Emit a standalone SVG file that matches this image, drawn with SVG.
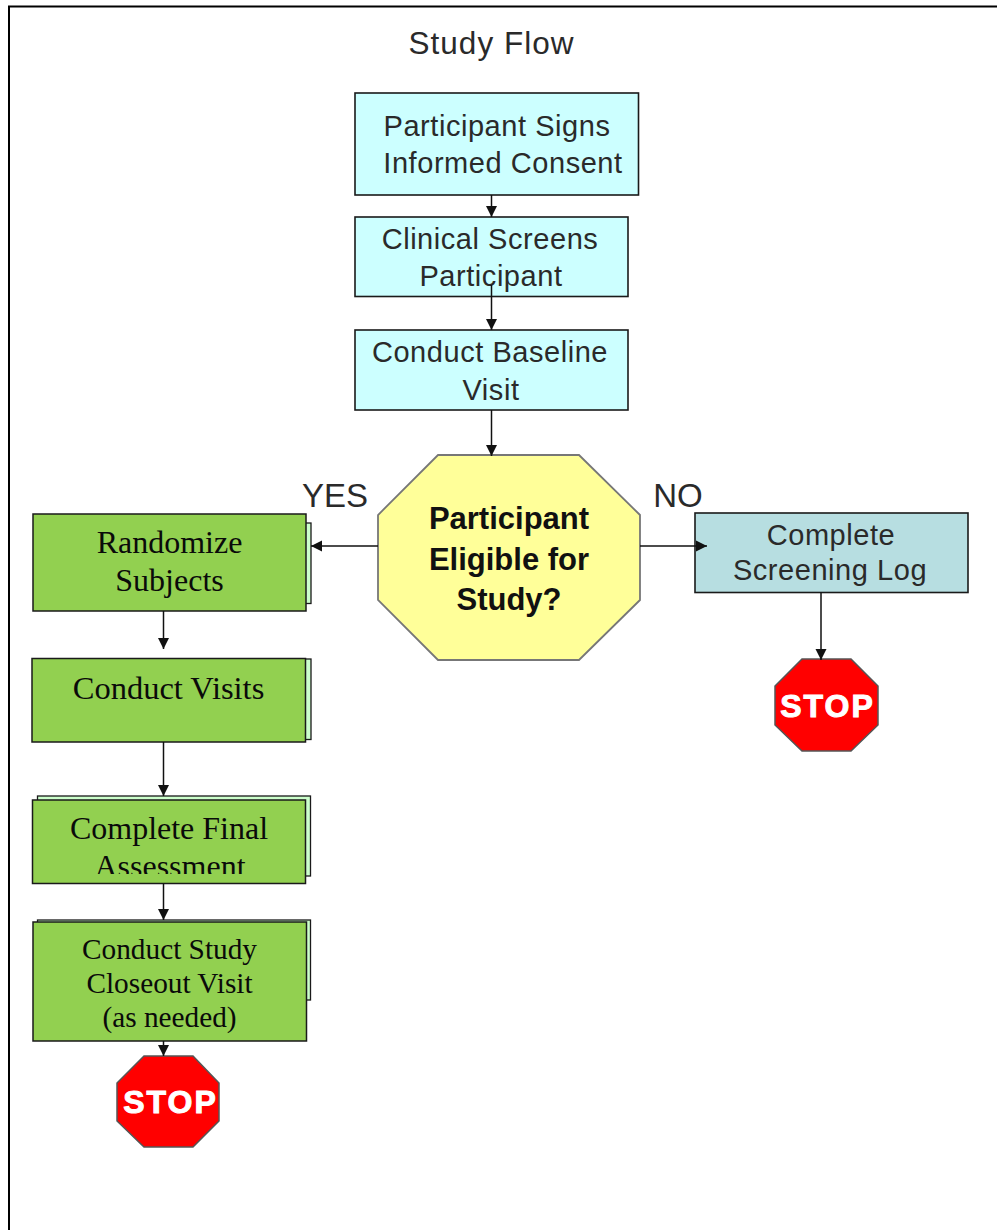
<svg xmlns="http://www.w3.org/2000/svg" width="997" height="1230" viewBox="0 0 997 1230">
<defs>
<marker id="a" markerUnits="userSpaceOnUse" markerWidth="12" markerHeight="12" refX="11" refY="6" orient="auto"><path d="M0 0.500L11 6L0 11.500Z" fill="#111"/></marker>
</defs>
<style>
.s{font-family:"Liberation Sans",Arial,sans-serif;fill:#2a2a2a;text-anchor:middle}
.p{letter-spacing:.55px}
.t{font-family:"Liberation Serif","Times New Roman",serif;fill:#0a0a0a;text-anchor:middle}
.c{fill:#ccffff;stroke:#1a1a1a;stroke-width:1.600}
.g{fill:#92d050;stroke:#1a1a1a;stroke-width:1.500}
.b{fill:#ccffcc;stroke:#1a1a1a;stroke-width:1.300}
.stop{fill:#ff0000;stroke:#555;stroke-width:1.500}
.st{font-family:"Liberation Sans",Arial,sans-serif;font-weight:700;fill:#fff;text-anchor:middle;font-size:32px;letter-spacing:2px;stroke:#fff;stroke-width:1}
.l{fill:none;stroke:#111;stroke-width:1.500}
</style>
<rect width="997" height="1230" fill="#fff"/>
<path d="M9 1230V6.500H997" fill="none" stroke="#000" stroke-width="2"/>
<text id="title" class="s" x="491.500" y="54" font-size="31.500" letter-spacing="1">Study Flow</text>
<g id="consent"><rect class="c" x="355" y="93" width="283.500" height="102"/><text class="s p" font-size="29"><tspan x="497" y="136">Participant Signs</tspan><tspan x="503" y="173">Informed Consent</tspan></text></g>
<g id="screens"><rect class="c" x="355" y="217" width="273" height="79.500"/><text class="s p" font-size="29"><tspan x="490" y="249">Clinical Screens</tspan><tspan x="491" y="286">Participant</tspan></text></g>
<g id="baseline"><rect class="c" x="355" y="330" width="273" height="80"/><text class="s p" font-size="29"><tspan x="490" y="362">Conduct Baseline</tspan><tspan x="491" y="400">Visit</tspan></text></g>
<g id="eligible"><polygon points="438,455 579,455 640,515 640,600 579,660 438,660 378,600 378,515" fill="#ffff99" stroke="#777" stroke-width="1.800"/><text class="s" font-size="31" font-weight="700" style="fill:#111"><tspan x="509" y="529">Participant</tspan><tspan x="509" y="570">Eligible for</tspan><tspan x="509" y="610">Study?</tspan></text></g>
<text id="yes" class="s" x="335" y="507" font-size="33">YES</text>
<text id="no" class="s" x="678" y="507" font-size="33">NO</text>
<g id="randomize"><rect class="b" x="300" y="523" width="11" height="80.500"/><rect class="g" x="33" y="514" width="273" height="97"/><text class="t" font-size="32"><tspan x="169.500" y="553">Randomize</tspan><tspan x="169.500" y="591">Subjects</tspan></text></g>
<g id="visits"><rect class="b" x="300" y="659" width="11" height="80.500"/><rect class="g" x="32" y="658.500" width="273.500" height="83.500"/><text class="t" x="168.500" y="699" font-size="32.500">Conduct Visits</text></g>
<g id="final"><rect class="b" x="37.500" y="796" width="273" height="80"/><rect class="g" x="32.500" y="800" width="273" height="83.500"/><text class="t" x="169" y="839" font-size="32">Complete Final</text><svg x="33" y="800" width="272" height="74" viewBox="33 800 272 74"><text class="t" x="170" y="877" font-size="32">Assessment</text></svg></g>
<g id="closeout"><rect class="b" x="37.500" y="920" width="273" height="80"/><rect class="g" x="33" y="922" width="273.500" height="119"/><text class="t" font-size="29.300"><tspan x="169.500" y="959">Conduct Study</tspan><tspan x="169.500" y="993">Closeout Visit</tspan><tspan x="169.500" y="1027">(as needed)</tspan></text></g>
<g id="log"><rect x="695" y="513" width="273" height="79.500" fill="#b7dee1" stroke="#1a1a1a" stroke-width="1.600"/><text class="s p" font-size="29"><tspan x="831" y="545">Complete</tspan><tspan x="830" y="580">Screening Log</tspan></text></g>
<g id="stop1"><polygon class="stop" points="802,659 851,659 878,686 878,725 851,751 802,751 775,725 775,686"/><text class="st" x="827.500" y="717">STOP</text></g>
<g id="stop2"><polygon class="stop" points="144,1056 193,1056 219,1083 219,1121 193,1147 144,1147 117,1121 117,1083"/><text class="st" x="170.500" y="1113">STOP</text></g>
<g id="connectors">
<path class="l" marker-end="url(#a)" d="M491.500 195V217"/>
<path class="l" marker-end="url(#a)" d="M491.500 285V330"/>
<path class="l" marker-end="url(#a)" d="M491.500 410V456"/>
<path class="l" marker-end="url(#a)" d="M378 546H311"/>
<path class="l" marker-end="url(#a)" d="M640 546H707"/>
<path class="l" marker-end="url(#a)" d="M821 592.500V660"/>
<path class="l" marker-end="url(#a)" d="M163.500 611V649"/>
<path class="l" marker-end="url(#a)" d="M163.500 742V796"/>
<path class="l" marker-end="url(#a)" d="M163.500 883.500V920"/>
<path class="l" marker-end="url(#a)" d="M163.500 1041V1056"/>
</g>
</svg>
